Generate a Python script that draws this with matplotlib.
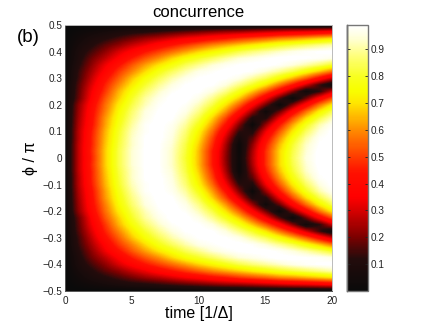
import numpy as np
import matplotlib
matplotlib.use("Agg")
import matplotlib.pyplot as plt
from matplotlib.colors import LinearSegmentedColormap

plt.rcParams['font.family'] = ['Liberation Sans', 'DejaVu Sans']
plt.rcParams['axes.unicode_minus'] = True

# Time samples (columns) and phi samples for the upper half (rows, 0 to 0.5 in 0.025 steps)
time_vals = list(range(21))
phi_upper = [0.025 * i for i in range(21)]

# Concurrence, row by row from phi=0 up to phi=0.5 (map is mirrored about phi=0)
conc_upper = [
    [0, .27, .46, .67, .83, .94, .99, .99, .93, .81, .65, .45, .22, .02, .26, .48, .68, .84, .95, 1.0, .99],
    [0, .27, .47, .67, .83, .94, .99, .99, .93, .82, .65, .45, .23, .01, .25, .48, .68, .83, .94, 1.0, .99],
    [0, .27, .46, .66, .82, .93, .99, .99, .94, .83, .67, .48, .25, .01, .22, .45, .65, .81, .93, .99, 1.0],
    [0, .26, .46, .65, .81, .93, .99, 1.0, .95, .85, .70, .51, .29, .06, .17, .40, .60, .77, .90, .98, 1.0],
    [0, .26, .45, .64, .80, .92, .98, 1.0, .96, .87, .73, .56, .35, .13, .10, .33, .53, .71, .85, .95, 1.0],
    [0, .25, .43, .62, .78, .90, .98, 1.0, .97, .90, .78, .62, .43, .21, .01, .23, .44, .63, .79, .91, .98],
    [0, .24, .42, .61, .76, .88, .96, 1.0, .99, .93, .83, .68, .51, .31, .10, .11, .32, .52, .69, .83, .93],
    [0, .23, .41, .58, .74, .86, .95, .99, 1.0, .96, .88, .76, .61, .43, .23, .03, .18, .38, .56, .72, .85],
    [0, .22, .39, .56, .71, .83, .92, .98, 1.0, .98, .92, .83, .70, .55, .37, .19, .01, .21, .39, .57, .72],
    [0, .18, .36, .53, .67, .80, .90, .96, 1.0, 1.0, .96, .89, .79, .67, .52, .35, .17, .01, .19, .37, .53],
    [0, .17, .34, .49, .64, .76, .86, .93, .98, 1.0, .99, .95, .88, .78, .66, .53, .38, .21, .04, .13, .30],
    [0, .16, .31, .46, .59, .71, .81, .89, .95, .99, 1.0, .99, .95, .88, .80, .70, .57, .44, .29, .14, .02],
    [0, .14, .28, .42, .54, .66, .76, .84, .91, .96, .99, 1.0, .99, .96, .90, .84, .75, .65, .54, .41, .28],
    [0, .13, .25, .37, .49, .59, .69, .78, .85, .91, .96, .98, 1.0, 1.0, .98, .94, .89, .83, .75, .66, .56],
    [0, .11, .22, .33, .43, .53, .62, .70, .77, .84, .89, .94, .97, .99, 1.0, 1.0, .98, .95, .91, .86, .80],
    [0, .09, .19, .27, .36, .45, .53, .60, .68, .75, .80, .85, .90, .94, .96, .98, 1.0, 1.0, .99, .98, .96],
    [0, .08, .15, .22, .30, .37, .44, .50, .56, .62, .68, .73, .78, .83, .87, .90, .93, .96, .98, .99, 1.0],
    [0, .06, .11, .17, .22, .28, .33, .39, .44, .49, .54, .59, .63, .67, .71, .75, .79, .82, .85, .88, .91],
    [0, .04, .08, .11, .15, .19, .23, .26, .30, .34, .37, .41, .44, .48, .51, .54, .58, .60, .63, .66, .69],
    [0, .02, .04, .06, .08, .10, .11, .13, .15, .17, .19, .21, .23, .24, .26, .28, .30, .32, .33, .35, .37],
    [0] * 21,
]

x_ticks = [0, 5, 10, 15, 20]
y_ticks = [-0.5, -0.4, -0.3, -0.2, -0.1, 0, 0.1, 0.2, 0.3, 0.4, 0.5]
y_labels = ['\u22120.5', '\u22120.4', '\u22120.3', '\u22120.2', '\u22120.1', '0', '0.1', '0.2', '0.3', '0.4', '0.5']
cbar_ticks = [0.1, 0.2, 0.3, 0.4, 0.5, 0.6, 0.7, 0.8, 0.9]

# Colour stops sampled from the colorbar of the reference
vmax = 0.99
cmap_stops = [(0.0, '#0a0a0a'), (0.12, '#240c0c'), (0.2, '#7c0000'), (0.3, '#d80000'), (0.35, '#ff0000'),
              (0.44, '#ff1000'), (0.5, '#ff3c00'), (0.6, '#ff8c00'), (0.7, '#ffe600'), (0.75, '#f8ff00'),
              (0.8, '#f8ff20'), (0.88, '#ffff80'), (0.95, '#ffffe0'), (vmax, '#ffffff')]
conc_cmap = LinearSegmentedColormap.from_list('conc_hot', [(v / vmax, c) for v, c in cmap_stops], N=256)

upper = np.array(conc_upper)
conc = np.vstack([upper[:0:-1], upper])  # bottom row is phi=-0.5

W, H = 436, 328
fig = plt.figure(figsize=(W / 100, H / 100), dpi=100)
ax = fig.add_axes([65 / W, (H - 291) / H, 267 / W, 266 / H])

dt = (time_vals[1] - time_vals[0]) / 2
dp = (phi_upper[1] - phi_upper[0]) / 2
im = ax.imshow(conc, cmap=conc_cmap, vmin=0, vmax=vmax, origin='lower', aspect='auto',
               interpolation='bilinear',
               extent=[time_vals[0] - dt, time_vals[-1] + dt, -phi_upper[-1] - dp, phi_upper[-1] + dp])
ax.set_xlim(0, 20)
ax.set_ylim(-0.5, 0.5)
ax.set_xticks(x_ticks)
ax.set_yticks(y_ticks)
ax.set_yticklabels(y_labels)
ax.tick_params(direction='in', length=0, labelsize=7.2, colors='#222222')
ax.tick_params(axis='y', pad=2)
ax.tick_params(axis='x', pad=3.5)
for side, sp in ax.spines.items():
    sp.set_color('#555555' if side in ('left', 'bottom') else '#bbbbbb')
    sp.set_linewidth(0.7)

ax.set_title('concurrence', fontsize=12, pad=6)
ax.set_xlabel('time [1/\u0394]', fontsize=11.5, labelpad=0)
ax.set_ylabel('\u03d5 / \u03c0', fontsize=11.5, labelpad=3)
fig.text(17 / W, 1 - 42 / H, '(b)', fontsize=13.5)

cax = fig.add_axes([347 / W, (H - 291) / H, 21 / W, 266 / H])
cb = fig.colorbar(im, cax=cax, ticks=cbar_ticks)
cb.ax.set_yticklabels([str(v) for v in cbar_ticks])
cb.ax.tick_params(direction='in', length=2, width=0.6, labelsize=7.2, pad=2, left=True, right=True, colors='#222222')
cb.outline.set_edgecolor('#777777')
cb.outline.set_linewidth(1.0)
cax.axvline(cax.get_xlim()[0], color='black', lw=1.0, clip_on=False)

fig.savefig('out.png', dpi=100)
